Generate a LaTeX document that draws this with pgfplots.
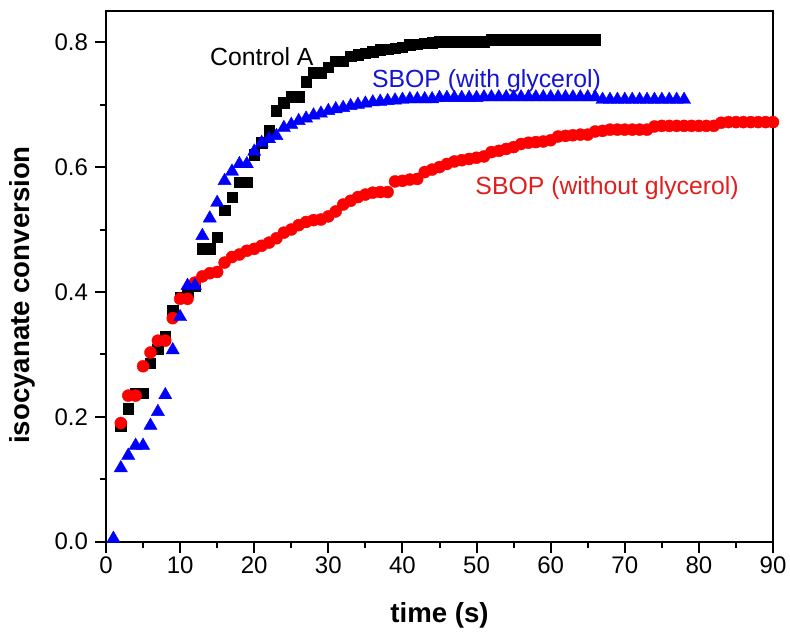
\documentclass[border=0pt]{standalone}
\usepackage{fontspec}
\setmainfont{Liberation Sans}
\usepackage{pgfplots}
\pgfplotsset{compat=1.18}

\definecolor{txtblue}{RGB}{20,20,210}
\definecolor{txtred}{RGB}{225,30,30}

\begin{document}
\begin{tikzpicture}
\begin{axis}[
  name=ax,
  scale only axis,
  width=333.5pt, height=265.35pt,
  xmin=0, xmax=90, ymin=0, ymax=0.85,
  xtick={0,10,...,90},
  ytick={0,0.2,0.4,0.6,0.8},
  minor x tick num=1, minor y tick num=1,
  tick align=outside,
  xtick pos=bottom, ytick pos=left,
  major tick length=5.5pt, minor tick length=3pt,
  tick style={black, line width=1pt},
  axis line style={line width=1pt},
  /pgf/number format/assume math mode=true,
  yticklabel style={/pgf/number format/.cd, fixed, fixed zerofill, precision=1},
  xticklabel style={yshift=1.5pt},
  ticklabel style={font=\fontsize{12}{14}\selectfont},
  xlabel={\textbf{time (s)}},
  ylabel={\textbf{isocyanate conversion}},
  xlabel style={at={(axis description cs:0.5,-0.138)}, anchor=center, font=\fontsize{13.8}{16}\selectfont},
  ylabel style={at={(axis description cs:-0.125,0.465)}, anchor=center, font=\fontsize{13.8}{16}\selectfont},
]

% Control A
\addplot[only marks, mark=square*, mark size=2.6pt, mark options={fill=black, draw=black, line width=0.2pt}]
coordinates {
(2,0.185)(3,0.213)(4,0.238)(5,0.238)(6,0.286)(7,0.308)(8,0.329)(9,0.371)(10,0.392)
(11,0.400)(12,0.410)(13,0.469)(14,0.469)(15,0.488)(16,0.531)(17,0.552)(18,0.576)(19,0.576)
(20,0.620)(21,0.639)(22,0.658)(23,0.690)(24,0.703)(25,0.713)(26,0.713)(27,0.737)(28,0.751)
(29,0.751)(30,0.760)(31,0.770)(32,0.770)(33,0.778)(34,0.780)(35,0.782)(36,0.785)(37,0.788)
(38,0.789)(39,0.790)(40,0.792)(41,0.796)(42,0.797)(43,0.798)(44,0.799)(45,0.801)(46,0.801)
(47,0.801)(48,0.801)(49,0.801)(50,0.801)(51,0.801)(52,0.804)(53,0.804)(54,0.804)(55,0.804)
(56,0.804)(57,0.804)(58,0.804)(59,0.804)(60,0.804)(61,0.804)(62,0.804)(63,0.804)(64,0.804)
(65,0.804)(66,0.804)
};

% SBOP (without glycerol)
\addplot[only marks, mark=*, mark size=3pt, mark options={fill=red, draw=red, line width=0.2pt}]
coordinates {
(2,0.190)(3,0.234)(4,0.234)(5,0.281)(6,0.303)(7,0.322)(8,0.322)(9,0.358)(10,0.389)(11,0.389)
(12,0.415)(13,0.425)(14,0.430)(15,0.432)(16,0.447)(17,0.456)(18,0.460)(19,0.466)(20,0.469)
(21,0.474)(22,0.479)(23,0.486)(24,0.495)(25,0.500)(26,0.507)(27,0.512)(28,0.515)(29,0.516)
(30,0.521)(31,0.529)(32,0.540)(33,0.546)(34,0.552)(35,0.556)(36,0.559)(37,0.560)(38,0.560)
(39,0.577)(40,0.578)(41,0.580)(42,0.581)(43,0.592)(44,0.596)(45,0.600)(46,0.605)(47,0.609)
(48,0.611)(49,0.613)(50,0.615)(51,0.617)(52,0.624)(53,0.626)(54,0.629)(55,0.632)(56,0.637)
(57,0.639)(58,0.640)(59,0.641)(60,0.643)(61,0.649)(62,0.650)(63,0.651)(64,0.652)(65,0.652)
(66,0.657)(67,0.658)(68,0.660)(69,0.660)(70,0.660)(71,0.660)(72,0.660)(73,0.660)(74,0.665)
(75,0.666)(76,0.666)(77,0.666)(78,0.666)(79,0.666)(80,0.666)(81,0.666)(82,0.666)(83,0.671)
(84,0.672)(85,0.672)(86,0.672)(87,0.672)(88,0.672)(89,0.672)(90,0.672)
};

% SBOP (with glycerol)
\addplot[only marks, mark=triangle*, mark size=3.8pt, mark options={fill=blue, draw=blue, line width=0.2pt}]
coordinates {
(1,0.005)(2,0.118)(3,0.138)(4,0.154)(5,0.154)(6,0.186)(7,0.208)(8,0.235)(9,0.307)(10,0.360)
(11,0.410)(12,0.410)(13,0.490)(14,0.518)(15,0.543)(16,0.578)(17,0.593)(18,0.605)(19,0.605)
(20,0.625)(21,0.639)(22,0.645)(23,0.650)(24,0.663)(25,0.668)(26,0.674)(27,0.678)(28,0.683)
(29,0.686)(30,0.690)(31,0.693)(32,0.695)(33,0.698)(34,0.700)(35,0.702)(36,0.704)(37,0.705)
(38,0.706)(39,0.707)(40,0.708)(41,0.709)(42,0.709)(43,0.709)(44,0.709)(45,0.711)(46,0.711)
(47,0.711)(48,0.711)(49,0.711)(50,0.711)(51,0.712)(52,0.712)(53,0.712)(54,0.712)(55,0.712)
(56,0.712)(57,0.712)(58,0.712)(59,0.712)(60,0.712)(61,0.712)(62,0.712)(63,0.712)(64,0.712)
(65,0.712)(66,0.712)(67,0.708)(68,0.708)(69,0.708)(70,0.708)(71,0.708)(72,0.708)(73,0.708)
(74,0.708)(75,0.708)(76,0.708)(77,0.708)(78,0.708)
};

\node[anchor=base west, inner sep=0pt, font=\fontsize{12.4}{14}\selectfont, text=black]
  at (axis cs:14.0,0.7627) {Control A};
\node[anchor=base west, inner sep=0pt, font=\fontsize{12.4}{14}\selectfont, text=txtblue]
  at (axis cs:35.85,0.727) {SBOP (with glycerol)};
\node[anchor=base west, inner sep=0pt, font=\fontsize{12.4}{14}\selectfont, text=txtred]
  at (axis cs:49.8,0.556) {SBOP (without glycerol)};
\end{axis}
\pgfresetboundingbox
\path[use as bounding box] ([xshift=-53pt,yshift=-44.65pt]ax.south west) rectangle ([xshift=8.5pt,yshift=5.5pt]ax.north east);
\end{tikzpicture}
\end{document}
